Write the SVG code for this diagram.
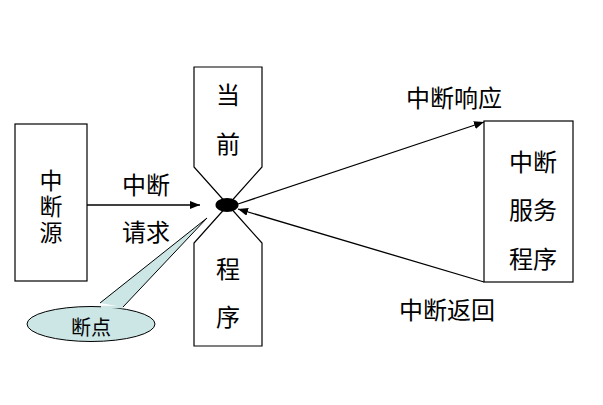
<svg xmlns="http://www.w3.org/2000/svg" width="603" height="405" viewBox="0 0 603 405">
<defs>
<marker id="ah" markerWidth="10" markerHeight="8" refX="10" refY="4" orient="auto" markerUnits="userSpaceOnUse">
<path d="M0,0 L10,4 L0,8 Z" fill="#000"/>
</marker>
<style>
.t{font-family:"Noto Sans CJK SC","Noto Sans CJK JP",sans-serif;font-size:24px;fill:#000;text-anchor:middle;dominant-baseline:central}
.b{fill:#fff;stroke:#000;stroke-width:1.2}
.c{stroke:#000;stroke-width:1.3;fill:none}
</style>
</defs>
<rect width="603" height="405" fill="#fff"/>
<g id="source">
<rect class="b" x="15" y="124" width="72" height="157"/>
<text class="t" x="51" y="208" style="font-size:23px;writing-mode:vertical-rl;letter-spacing:3px">中断源</text>
</g>
<g id="current">
<polygon class="b" points="194,67 262,67 262,167 228,205 194,167"/>
<polygon class="b" points="194,346 262,346 262,243 228,205 194,243"/>
<text class="t" x="228" y="93">当</text>
<text class="t" x="228" y="142">前</text>
<text class="t" x="228" y="267">程</text>
<text class="t" x="228" y="315">序</text>
</g>
<g id="service">
<rect class="b" x="484" y="121" width="89" height="161"/>
<text class="t" x="533" y="160">中断</text>
<text class="t" x="533" y="208">服务</text>
<text class="t" x="533" y="257">程序</text>
</g>
<g id="connectors">
<line class="c" x1="87" y1="205" x2="200" y2="205" marker-end="url(#ah)"/>
<line class="c" x1="238" y1="204" x2="484" y2="122" marker-end="url(#ah)"/>
<line class="c" x1="484" y1="282" x2="238" y2="209" marker-end="url(#ah)"/>
<text class="t" x="146" y="183">中断</text>
<text class="t" x="146" y="230">请求</text>
<text class="t" x="454" y="96">中断响应</text>
<text class="t" x="447" y="308">中断返回</text>
</g>
<g id="breakpoint">
<ellipse cx="227" cy="205" rx="11.5" ry="7" fill="#000"/>
</g>
<g id="callout">
<path d="M100,303 L207,218 L123,307" fill="#cce6e6" stroke="#000" stroke-width="1"/>
<ellipse cx="91" cy="324" rx="64" ry="17.5" fill="#cce6e6" stroke="#000" stroke-width="1"/>
<path d="M101,307 L123,307" stroke="#cce6e6" stroke-width="2.5"/>
<text class="t" x="91" y="326" style="font-size:20px">断点</text>
</g>
</svg>
